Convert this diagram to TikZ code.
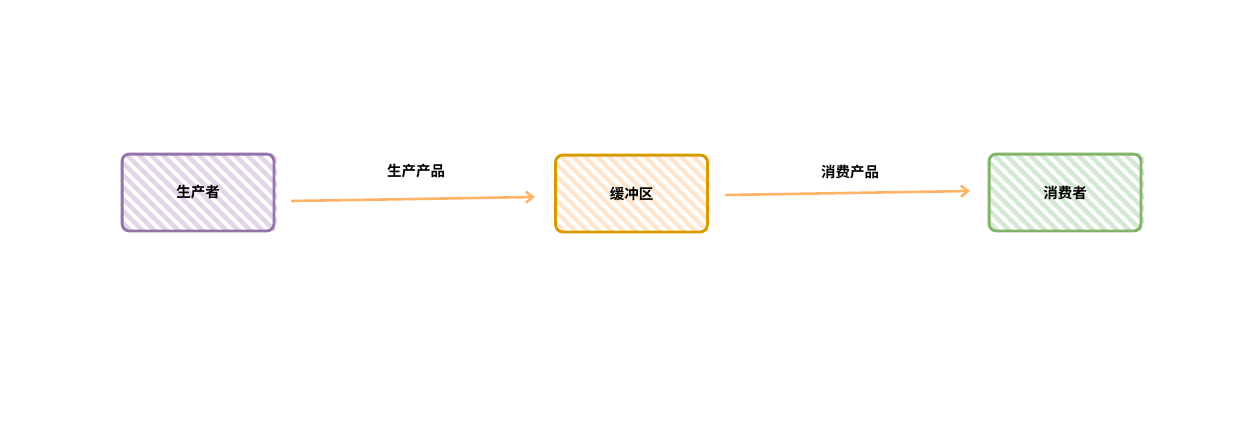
\documentclass[tikz,border=0pt]{standalone}
\usepackage{fontspec}
\newfontfamily\cjk{Noto Sans CJK SC}[BoldFont={Noto Sans CJK SC Bold}]
\usetikzlibrary{arrows.meta}
\definecolor{pstroke}{HTML}{9673A6}
\definecolor{pfill}{HTML}{E1D5E7}
\definecolor{ostroke}{HTML}{D79B00}
\definecolor{ofill}{HTML}{FFE6CC}
\definecolor{gstroke}{HTML}{82B366}
\definecolor{gfill}{HTML}{D5E8D4}
\definecolor{arrowc}{HTML}{FFB366}
\tikzset{
  box/.style={draw, line width=2.8pt, rounded corners=7pt, minimum width=149pt, minimum height=74pt, inner sep=0pt, font=\cjk\bfseries\fontsize{14.5pt}{16pt}\selectfont},
  flow/.style={draw=arrowc, line width=2.6pt, line cap=round, -{Straight Barb[length=7pt,width=11pt,line width=2.6pt]}},
  lab/.style={font=\cjk\bfseries\fontsize{14.5pt}{16pt}\selectfont, inner sep=0pt}
}
\newcommand{\hatchbox}[3]{%
  \begin{scope}
    \clip[rounded corners=7pt] ([xshift=-1pt,yshift=-1pt]#1.south west) rectangle ([xshift=3pt,yshift=3pt]#1.north east);
    \foreach \k in {-80,-68,...,160} {
      \draw[#2, line width=4.5pt] ([xshift=\k pt]#1.north west) -- ++(90pt,-90pt);
    }
  \end{scope}
  \draw[#3, line width=2.8pt, rounded corners=7pt] (#1.south west) rectangle (#1.north east);
}
\begin{document}
\begin{tikzpicture}[x=1pt,y=-1pt]
\useasboundingbox (0,0) rectangle (1238,429);
\fill[white] (0,0) rectangle (1238,429);
\node[box, draw=none] (prod) at (198,192.5) {};
\node[box, draw=none] (buf) at (631.5,193.5) {};
\node[box, draw=none] (cons) at (1065,192.5) {};
\hatchbox{prod}{pfill}{pstroke}
\hatchbox{buf}{ofill}{ostroke}
\hatchbox{cons}{gfill}{gstroke}
\node[lab] (tprod) at (prod.center) {生产者};
\node[lab] (tbuf) at (buf.center) {缓冲区};
\node[lab] (tcons) at (cons.center) {消费者};
\coordinate (a1s) at (292,201);
\coordinate (a1e) at (535,197);
\coordinate (a2s) at (726,195);
\coordinate (a2e) at (970,191);
\draw[flow] (a1s) -- (a1e);
\draw[flow] (a2s) -- (a2e);
\node[lab] (l1) at (416,171) {生产产品};
\node[lab] (l2) at (850,172) {消费产品};
\end{tikzpicture}
\end{document}
